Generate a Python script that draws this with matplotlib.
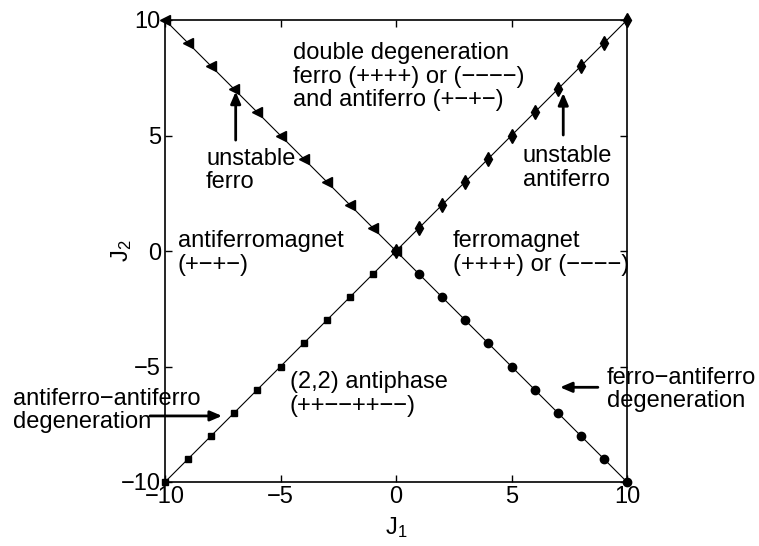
import matplotlib
matplotlib.use("Agg")
import matplotlib.pyplot as plt

plt.rcParams['font.family'] = ['Liberation Sans', 'DejaVu Sans']
plt.rcParams['mathtext.fontset'] = 'custom'
plt.rcParams['mathtext.rm'] = 'Liberation Sans'
plt.rcParams['mathtext.it'] = 'Liberation Sans'
plt.rcParams['axes.unicode_minus'] = True

# Data
j1_neg = [-10, -9, -8, -7, -6, -5, -4, -3, -2, -1, 0]
j2_unstable_ferro = [10, 9, 8, 7, 6, 5, 4, 3, 2, 1, 0]      # triangles
j2_af_af = [-10, -9, -8, -7, -6, -5, -4, -3, -2, -1, 0]     # squares
j1_pos = [0, 1, 2, 3, 4, 5, 6, 7, 8, 9, 10]
j2_unstable_af = [0, 1, 2, 3, 4, 5, 6, 7, 8, 9, 10]          # diamonds
j2_f_af = [0, -1, -2, -3, -4, -5, -6, -7, -8, -9, -10]       # circles
ticks = [-10, -5, 0, 5, 10]

fig = plt.figure(figsize=(7.59, 5.46), dpi=100)
ax = fig.add_axes([165/759, 64/546, 462/759, 462/546])

fs = 17
ax.plot(j1_neg, j2_unstable_ferro, '-', color='black', lw=0.8, marker='<', ms=6.5, clip_on=False, zorder=3)
ax.plot(j1_pos, j2_unstable_af, '-', color='black', lw=0.8, marker='d', ms=7.5, clip_on=False, zorder=3)
ax.plot(j1_neg, j2_af_af, '-', color='black', lw=0.8, marker='s', ms=5, clip_on=False, zorder=3)
ax.plot(j1_pos, j2_f_af, '-', color='black', lw=0.8, marker='o', ms=6, clip_on=False, zorder=4)

ax.set_xlim(-10, 10)
ax.set_ylim(-10, 10)
ax.set_xticks(ticks)
ax.set_yticks(ticks)
ax.tick_params(direction='in', top=True, right=True, length=5, width=1, labelsize=fs, pad=3)
for s in ax.spines.values():
    s.set_linewidth(1.2)

ax.set_xlabel('J$_1$', fontsize=fs, labelpad=5)
ax.set_ylabel('J$_2$', fontsize=fs)
ax.yaxis.set_label_coords(-0.067, 0.5)

txt = dict(fontsize=fs, ha='left', va='center', linespacing=1.1)
ax.text(-4.46, 7.55, 'double degeneration\nferro (++++) or (\u2212\u2212\u2212\u2212)\nand antiferro (+\u2212+\u2212)', **txt)
ax.text(-8.22, 3.48, 'unstable\nferro', **txt)
ax.text(5.48, 3.6, 'unstable\nantiferro', **txt)
ax.text(-9.44, -0.08, 'antiferromagnet\n(+\u2212+\u2212)', **txt)
ax.text(2.45, -0.08, 'ferromagnet\n(++++) or (\u2212\u2212\u2212\u2212)', **txt)
ax.text(-4.59, -6.2, '(2,2) antiphase\n(++\u2212\u2212++\u2212\u2212)', **txt)
ax.text(-16.6, -6.9, 'antiferro\u2212antiferro\ndegeneration', clip_on=False, **txt)
ax.text(9.12, -6.0, 'ferro\u2212antiferro\ndegeneration', clip_on=False, **txt)

arr = dict(arrowstyle='-|>,head_length=0.7,head_width=0.3', color='black', lw=2, shrinkA=0, shrinkB=0)
ax.annotate('', xy=(-6.94, 6.9), xytext=(-6.94, 4.8), arrowprops=arr, annotation_clip=False)
ax.annotate('', xy=(7.24, 6.84), xytext=(7.24, 5.02), arrowprops=arr, annotation_clip=False)
ax.annotate('', xy=(-7.53, -7.14), xytext=(-10.65, -7.14), arrowprops=arr, annotation_clip=False)
ax.annotate('', xy=(7.1, -5.9), xytext=(8.74, -5.9), arrowprops=arr, annotation_clip=False)

fig.savefig('out.png', dpi=100)
